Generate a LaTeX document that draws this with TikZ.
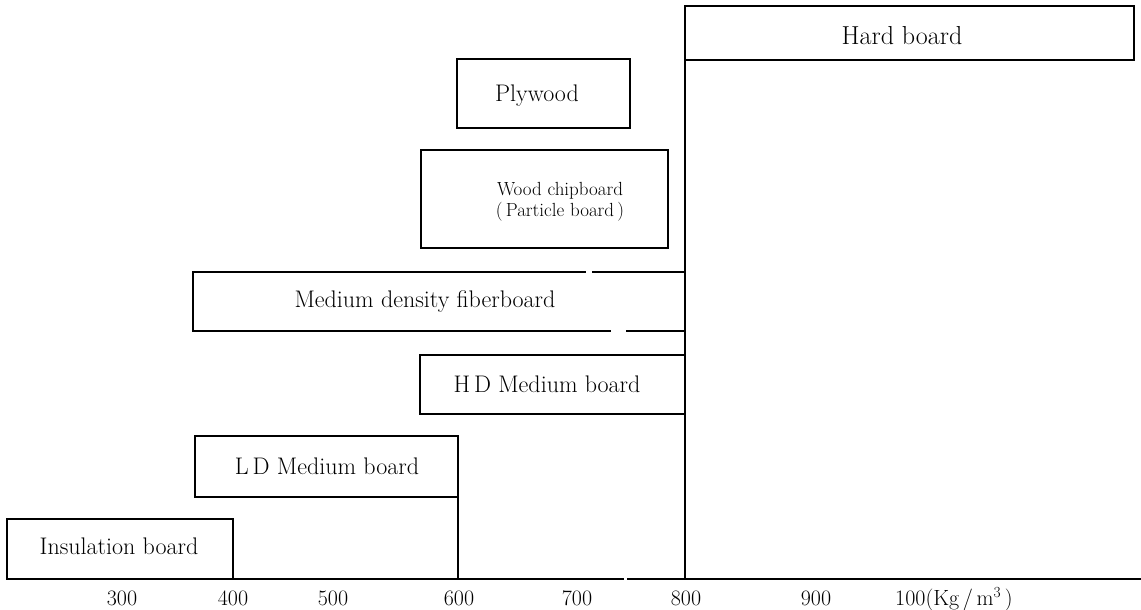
\documentclass[tikz,border=0pt]{standalone}
\usepackage{fontspec}
\tikzset{
  bx/.style={line width=1.5pt, line cap=rect, line join=miter},
  lbl/.style={font=\fontsize{24}{28}\selectfont, inner sep=0pt},
  tick/.style={font=\fontsize{22}{26}\selectfont, anchor=base, inner sep=0pt},
}
\begin{document}
\begin{tikzpicture}[x=1pt,y=-1pt]
\useasboundingbox (0,0) rectangle (1141,610);

% density axis
\draw[bx] (7,579) -- (623,579) (628,579) -- (1141,579);

% density ranges of the board types
\draw[bx] (233,579) -- (233,519) -- (7,519) -- (7,579);
\draw[bx] (458,579) -- (458,436) -- (195,436) -- (195,497) -- (458,497);
\draw[bx] (685,414) -- (420,414) -- (420,355) -- (685,355);
\draw[bx] (585,272) -- (193,272) -- (193,331) -- (610,331)
          (627,331) -- (685,331) (593,272) -- (685,272);
\draw[bx] (421,150) rectangle (668,248);
\draw[bx] (457,59) rectangle (630,128);
\draw[bx] (685,579) -- (685,6) -- (1134,6) -- (1134,60) -- (685,60);

% board names
\node[lbl] (ins)  at (119,546) {Insulation board};
\node[lbl] (ld)   at (327,466) {L\,D Medium board};
\node[lbl] (hd)   at (547,384) {H\,D Medium board};
\node[lbl] (mdf)  at (425,302) {Medium density fiberboard};
\node[lbl, font=\fontsize{19}{21}\selectfont, align=center] (chip) at (560,202)
     {Wood chipboard\\(\,Particle board\,)};
\node[lbl] (ply)  at (537,96) {Plywood};
\node[lbl, font=\fontsize{26}{30}\selectfont] (hard) at (902,36) {Hard board};

% axis labels
\node[tick] (t300) at (122,605) {300};
\node[tick] (t400) at (233,605) {400};
\node[tick] (t500) at (333,605) {500};
\node[tick] (t600) at (459,605) {600};
\node[tick] (t700) at (577,605) {700};
\node[tick] (t800) at (686,605) {800};
\node[tick] (t900) at (816,605) {900};
\node[tick, anchor=base west] (tunit) at (895,605) {100(Kg\,/\,m\textsuperscript{3}\,)};
\end{tikzpicture}
\end{document}
